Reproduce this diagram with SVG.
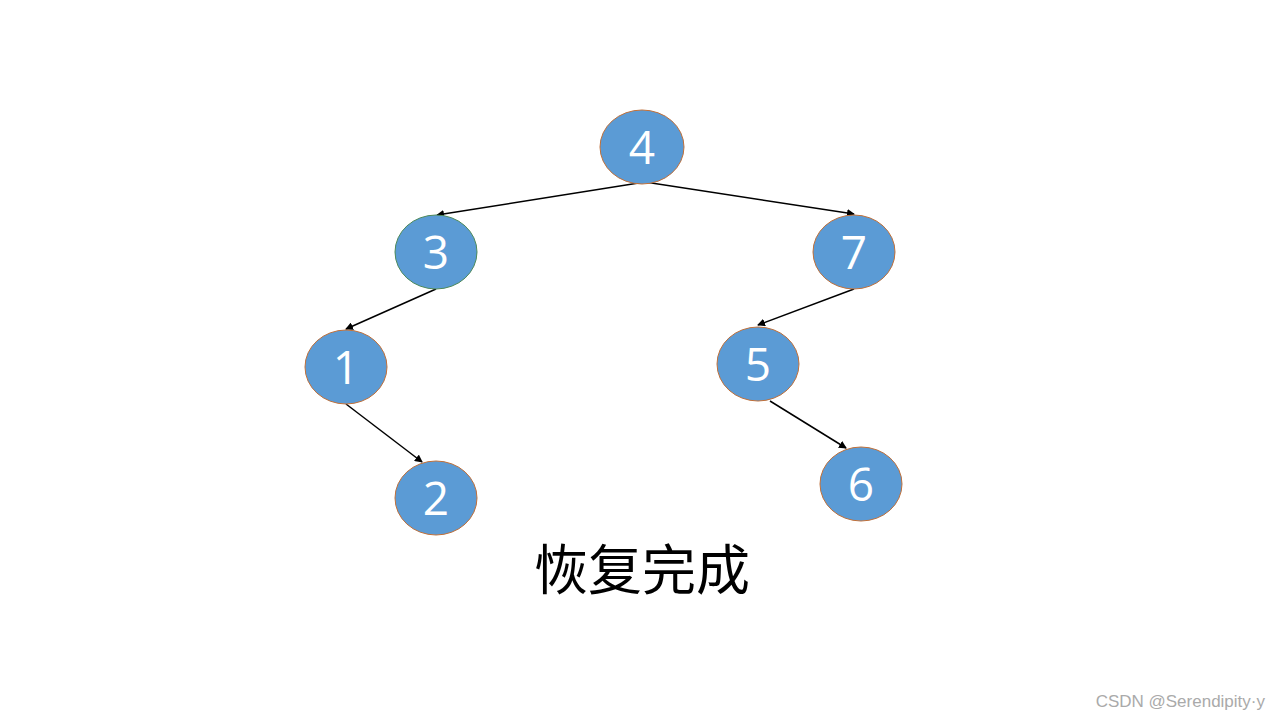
<svg xmlns="http://www.w3.org/2000/svg" width="1280" height="720" viewBox="0 0 1280 720">
<style>
.n{fill:#5B9BD5;stroke:#C0703A;stroke-width:1}
.t{font-family:"Open Sans","Liberation Sans",sans-serif;font-size:46px;fill:#fff;text-anchor:middle}
.e{stroke:#000;stroke-width:1.5;fill:none;marker-end:url(#a)}
</style>
<defs><marker id="a" markerWidth="8" markerHeight="8" refX="7" refY="4" orient="auto" markerUnits="userSpaceOnUse"><path d="M0,0 L8,4 L0,8 Z" fill="#000"/></marker></defs>
<rect width="1280" height="720" fill="#fff"/>
<g id="edges">
<line class="e" x1="645" y1="182" x2="437" y2="215"/>
<line class="e" x1="645" y1="182" x2="854" y2="214"/>
<line class="e" x1="436" y1="289" x2="346" y2="329"/>
<line class="e" x1="854" y1="289" x2="758" y2="325"/>
<line class="e" x1="346" y1="404" x2="422" y2="462"/>
<line class="e" x1="770" y1="401" x2="846" y2="448"/>
</g>
<g id="n4"><ellipse class="n" cx="642" cy="147" rx="42" ry="37"/><text class="t" x="642" y="164">4</text></g>
<g id="n3"><ellipse class="n" cx="436" cy="252" rx="41" ry="37" style="stroke:#4E8A5A"/><text class="t" x="436" y="269">3</text></g>
<g id="n7"><ellipse class="n" cx="854" cy="252" rx="41" ry="37"/><text class="t" x="854" y="269">7</text></g>
<g id="n1"><ellipse class="n" cx="346" cy="367" rx="41" ry="37"/><text class="t" x="346" y="384">1</text></g>
<g id="n5"><ellipse class="n" cx="758" cy="364" rx="41" ry="37"/><text class="t" x="758" y="381">5</text></g>
<g id="n2"><ellipse class="n" cx="436" cy="498" rx="41" ry="37"/><text class="t" x="436" y="515">2</text></g>
<g id="n6"><ellipse class="n" cx="861" cy="484" rx="41" ry="37"/><text class="t" x="861" y="501">6</text></g>
<text x="642" y="590" font-family="'Liberation Serif','Noto Sans CJK SC',serif" font-size="54" text-anchor="middle" fill="#000">恢复完成</text>
<text x="1265" y="707" font-family="'Liberation Sans',sans-serif" font-size="17" text-anchor="end" fill="#AAAAAA">CSDN @Serendipity·y</text>
</svg>
